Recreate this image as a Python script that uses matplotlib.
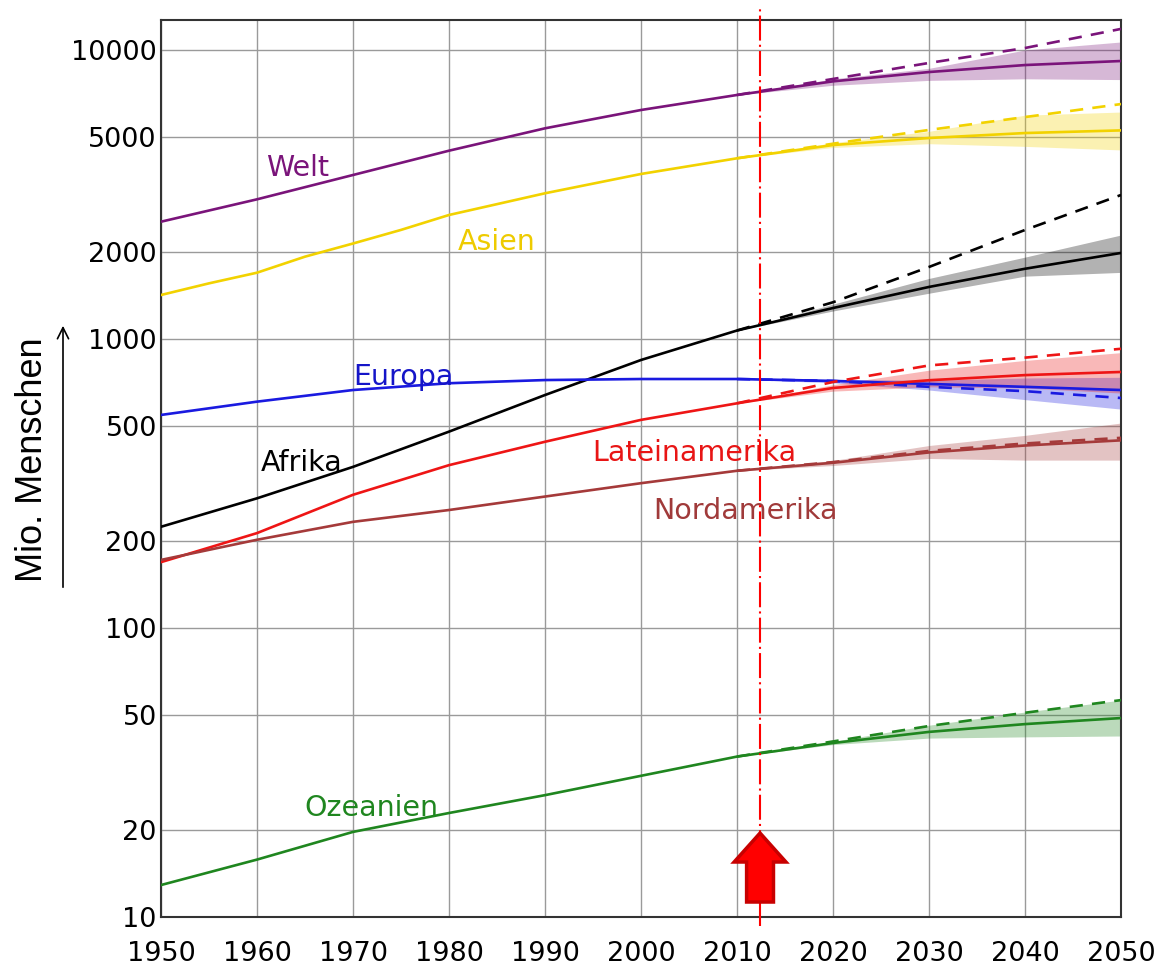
import matplotlib
matplotlib.use("Agg")
import matplotlib.pyplot as plt
import matplotlib.transforms as mtransforms
from matplotlib.patches import Polygon
from matplotlib.ticker import FixedLocator, NullLocator

# Bevoelkerung in Mio., 1950-2050 (mittlere Variante)
jahre = [1950, 1960, 1970, 1980, 1990, 2000, 2010, 2020, 2030, 2040, 2050]
welt = [2546, 3043, 3694, 4483, 5358, 6200, 6988, 7790, 8390, 8870, 9160]
asien_jahre = [1950, 1955, 1960, 1965, 1970, 1975, 1980, 1990, 2000, 2010, 2020, 2030, 2040, 2050]
asien = [1420, 1558, 1696, 1927, 2140, 2385, 2686, 3193, 3724, 4219, 4690, 4960, 5160, 5270]
afrika = [224, 281, 361, 478, 640, 846, 1070, 1280, 1514, 1750, 1985]
europa = [546, 607, 666, 703, 721, 727, 727, 716, 699, 683, 666]
latein = [169, 213, 289, 366, 441, 525, 599, 677, 720, 750, 769]
nord = [172, 202, 233, 256, 285, 317, 350, 373, 405, 428, 446]
ozean = [12.9, 15.8, 19.7, 22.9, 26.4, 30.8, 35.9, 40.0, 43.7, 46.5, 48.8]

# Prognose ab 2010: konstante Fertilitaet (gestrichelt), untere/obere Variante
proj_jahre = [2010, 2020, 2030, 2040, 2050]
welt_konst = [6988, 7940, 9020, 10160, 11830]
asien_konst = [4219, 4740, 5290, 5860, 6500]
afrika_konst = [1070, 1340, 1775, 2384, 3150]
europa_konst = [727, 716, 683, 660, 625]
latein_konst = [599, 710, 810, 862, 925]
nord_konst = [350, 375, 410, 435, 455]
ozean_konst = [35.9, 40.5, 45.8, 50.9, 56.3]

welt_lo = [6988, 7550, 7850, 7950, 7900]
welt_hi = [6988, 7950, 8640, 10000, 10660]
asien_lo = [4219, 4600, 4740, 4640, 4510]
asien_hi = [4219, 4780, 5230, 5950, 6100]
afrika_lo = [1070, 1250, 1440, 1650, 1700]
afrika_hi = [1070, 1320, 1620, 1920, 2290]
europa_lo = [727, 705, 666, 617, 572]
europa_hi = [727, 725, 720, 733, 737]
latein_lo = [599, 660, 683, 677, 650]
latein_hi = [599, 695, 780, 843, 897]
nord_lo = [350, 365, 386, 381, 381]
nord_hi = [350, 380, 428, 464, 512]
ozean_lo = [35.9, 39.5, 41.6, 42.0, 42.3]
ozean_hi = [35.9, 40.5, 46.1, 51.2, 56.3]

y_ticks = [10, 20, 50, 100, 200, 500, 1000, 2000, 5000, 10000]
x_ticks = list(range(1950, 2051, 10))

reihen = [
    # name, jahre, solid, konst, lo, hi, farbe, label-pos, label-farbe
    ("Welt", jahre, welt, welt_konst, welt_lo, welt_hi, "#7a147a", (1964.2, 3906), "#7a147a"),
    ("Asien", asien_jahre, asien, asien_konst, asien_lo, asien_hi, "#f2d200", (1985.0, 2166), "#eecb00"),
    ("Afrika", jahre, afrika, afrika_konst, afrika_lo, afrika_hi, "#000000", (1964.7, 372), "#000000"),
    ("Europa", jahre, europa, europa_konst, europa_lo, europa_hi, "#1a1ae0", (1975.3, 739), "#1515c8"),
    ("Lateinamerika", jahre, latein, latein_konst, latein_lo, latein_hi, "#ee1515", (2005.6, 403), "#e81515"),
    ("Nordamerika", jahre, nord, nord_konst, nord_lo, nord_hi, "#a53a3a", (2010.9, 254), "#a03a3a"),
    ("Ozeanien", jahre, ozean, ozean_konst, ozean_lo, ozean_hi, "#1f861f", (1971.9, 23.8), "#1f861f"),
]

fig = plt.figure(figsize=(11.62, 9.71), dpi=100)
ax = fig.add_axes([161/1162, 54/971, 960/1162, 897/971])

ax.set_yscale("log")
ax.set_xlim(1950, 2050)
ax.set_ylim(10, 12700)

for name, jj, werte, konst, lo, hi, farbe, pos, lfarbe in reihen:
    ax.fill_between(proj_jahre, lo, hi, color=farbe, alpha=0.3, lw=0, zorder=2)
    ax.plot(jj, werte, color=farbe, lw=1.9, zorder=3)
    ax.plot(proj_jahre, konst, color=farbe, lw=1.9, ls=(0, (5, 3.5)), zorder=3)
    ax.text(pos[0], pos[1], name, color=lfarbe, fontsize=20.5, ha="center", va="center", zorder=4)

# aktuelles Jahr
ax.axvline(2012.4, ymin=-0.01, ymax=1.014, color="#ff0000", lw=1.5,
           ls=(0, (12, 2, 1, 2)), clip_on=False, zorder=5)
trans = mtransforms.blended_transform_factory(ax.transData, ax.transAxes)
pfeil = [(2012.4, 0.0936), (2015.1, 0.0613), (2013.8, 0.0613), (2013.8, 0.0167),
         (2011.0, 0.0167), (2011.0, 0.0613), (2009.7, 0.0613)]
ax.add_patch(Polygon(pfeil, closed=True, transform=trans, facecolor="#ff0000",
                     edgecolor="#c80000", lw=2.5, zorder=6, clip_on=False))

ax.yaxis.set_major_locator(FixedLocator(y_ticks))
ax.yaxis.set_minor_locator(NullLocator())
ax.set_yticklabels([str(t) for t in y_ticks])
ax.set_xticks(x_ticks)
ax.tick_params(length=0, labelsize=19.5)
ax.tick_params(axis="x", pad=17)
ax.tick_params(axis="y", pad=3)
ax.grid(True, color="#9a9a9a", lw=1, zorder=1)
ax.set_axisbelow(True)
for s in ax.spines.values():
    s.set_color("#333333")
    s.set_linewidth(1.5)

fig.text(33/1162, 1 - 460/971, "Mio. Menschen", rotation=90, ha="center", va="center",
         fontsize=26, family="Liberation Sans")
fig.add_artist(matplotlib.patches.FancyArrowPatch(
    (63/1162, 1 - 590/971), (63/1162, 1 - 323/971), transform=fig.transFigure,
    arrowstyle="->,head_length=8,head_width=4", color="black", lw=1.2,
    mutation_scale=1))

fig.savefig("out.png", dpi=100, facecolor="white")
